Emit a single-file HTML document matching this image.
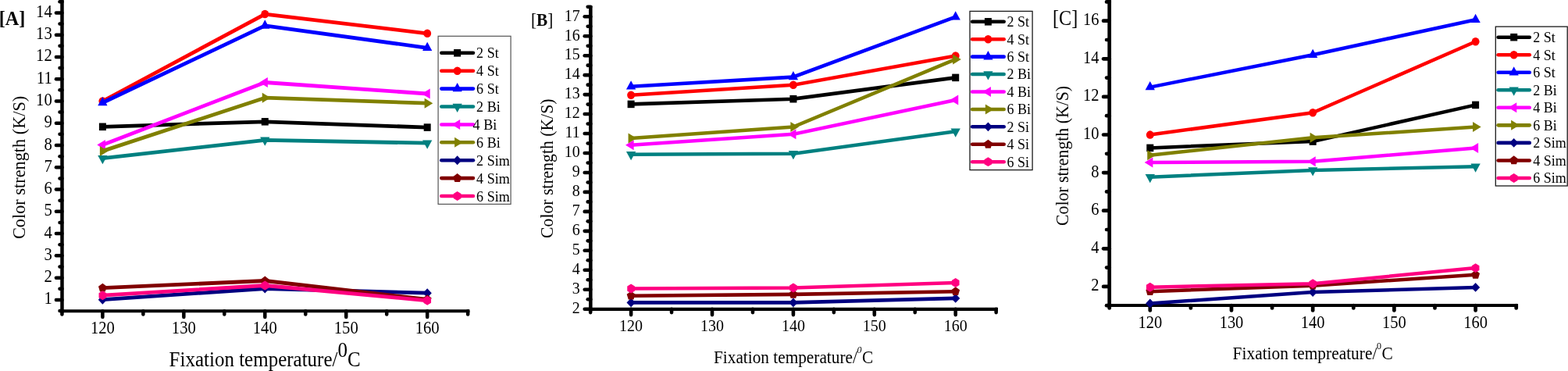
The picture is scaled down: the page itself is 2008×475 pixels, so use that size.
<!DOCTYPE html>
<html lang="en">
<head>
<meta charset="utf-8">
<title>Color strength vs fixation temperature</title>
<style>
html, body { margin: 0; padding: 0; background: #ffffff; }
body { width: 2008px; height: 475px; overflow: hidden; }
svg { display: block; }
svg text { font-family: "Liberation Serif", serif; fill: #000; }
</style>
</head>
<body>
<svg width="2008" height="475" viewBox="0 0 2008 475">
<rect x="0" y="0" width="2008" height="475" fill="#ffffff"/>
<line x1="79.50" y1="-5.00" x2="79.50" y2="400.55" stroke="#000" stroke-width="4.5"/>
<line x1="77.25" y1="398.30" x2="601.42" y2="398.30" stroke="#000" stroke-width="4.0"/>
<line x1="79.43" y1="398.30" x2="79.43" y2="402.50" stroke="#000" stroke-width="4.5" stroke-linecap="round"/>
<line x1="131.40" y1="398.30" x2="131.40" y2="406.10" stroke="#000" stroke-width="4.5" stroke-linecap="round"/>
<text transform="translate(131.40,427.10) scale(1,1.13)" font-size="20.7" text-anchor="middle">120</text>
<line x1="183.38" y1="398.30" x2="183.38" y2="402.50" stroke="#000" stroke-width="4.5" stroke-linecap="round"/>
<line x1="235.35" y1="398.30" x2="235.35" y2="406.10" stroke="#000" stroke-width="4.5" stroke-linecap="round"/>
<text transform="translate(235.35,427.10) scale(1,1.13)" font-size="20.7" text-anchor="middle">130</text>
<line x1="287.32" y1="398.30" x2="287.32" y2="402.50" stroke="#000" stroke-width="4.5" stroke-linecap="round"/>
<line x1="339.30" y1="398.30" x2="339.30" y2="406.10" stroke="#000" stroke-width="4.5" stroke-linecap="round"/>
<text transform="translate(339.30,427.10) scale(1,1.13)" font-size="20.7" text-anchor="middle">140</text>
<line x1="391.27" y1="398.30" x2="391.27" y2="402.50" stroke="#000" stroke-width="4.5" stroke-linecap="round"/>
<line x1="443.25" y1="398.30" x2="443.25" y2="406.10" stroke="#000" stroke-width="4.5" stroke-linecap="round"/>
<text transform="translate(443.25,427.10) scale(1,1.13)" font-size="20.7" text-anchor="middle">150</text>
<line x1="495.23" y1="398.30" x2="495.23" y2="402.50" stroke="#000" stroke-width="4.5" stroke-linecap="round"/>
<line x1="547.20" y1="398.30" x2="547.20" y2="406.10" stroke="#000" stroke-width="4.5" stroke-linecap="round"/>
<text transform="translate(547.20,427.10) scale(1,1.13)" font-size="20.7" text-anchor="middle">160</text>
<line x1="599.17" y1="398.30" x2="599.17" y2="402.50" stroke="#000" stroke-width="4.5" stroke-linecap="round"/>
<line x1="79.50" y1="398.03" x2="76.50" y2="398.03" stroke="#000" stroke-width="4.5" stroke-linecap="round"/>
<line x1="79.50" y1="383.90" x2="71.90" y2="383.90" stroke="#000" stroke-width="4.5" stroke-linecap="round"/>
<text transform="translate(66.80,389.40) scale(1,1.13)" font-size="20.7" text-anchor="end">1</text>
<line x1="79.50" y1="369.76" x2="76.50" y2="369.76" stroke="#000" stroke-width="4.5" stroke-linecap="round"/>
<line x1="79.50" y1="355.63" x2="71.90" y2="355.63" stroke="#000" stroke-width="4.5" stroke-linecap="round"/>
<text transform="translate(66.80,361.13) scale(1,1.13)" font-size="20.7" text-anchor="end">2</text>
<line x1="79.50" y1="341.50" x2="76.50" y2="341.50" stroke="#000" stroke-width="4.5" stroke-linecap="round"/>
<line x1="79.50" y1="327.36" x2="71.90" y2="327.36" stroke="#000" stroke-width="4.5" stroke-linecap="round"/>
<text transform="translate(66.80,332.86) scale(1,1.13)" font-size="20.7" text-anchor="end">3</text>
<line x1="79.50" y1="313.22" x2="76.50" y2="313.22" stroke="#000" stroke-width="4.5" stroke-linecap="round"/>
<line x1="79.50" y1="299.09" x2="71.90" y2="299.09" stroke="#000" stroke-width="4.5" stroke-linecap="round"/>
<text transform="translate(66.80,304.59) scale(1,1.13)" font-size="20.7" text-anchor="end">4</text>
<line x1="79.50" y1="284.95" x2="76.50" y2="284.95" stroke="#000" stroke-width="4.5" stroke-linecap="round"/>
<line x1="79.50" y1="270.82" x2="71.90" y2="270.82" stroke="#000" stroke-width="4.5" stroke-linecap="round"/>
<text transform="translate(66.80,276.32) scale(1,1.13)" font-size="20.7" text-anchor="end">5</text>
<line x1="79.50" y1="256.68" x2="76.50" y2="256.68" stroke="#000" stroke-width="4.5" stroke-linecap="round"/>
<line x1="79.50" y1="242.55" x2="71.90" y2="242.55" stroke="#000" stroke-width="4.5" stroke-linecap="round"/>
<text transform="translate(66.80,248.05) scale(1,1.13)" font-size="20.7" text-anchor="end">6</text>
<line x1="79.50" y1="228.41" x2="76.50" y2="228.41" stroke="#000" stroke-width="4.5" stroke-linecap="round"/>
<line x1="79.50" y1="214.28" x2="71.90" y2="214.28" stroke="#000" stroke-width="4.5" stroke-linecap="round"/>
<text transform="translate(66.80,219.78) scale(1,1.13)" font-size="20.7" text-anchor="end">7</text>
<line x1="79.50" y1="200.14" x2="76.50" y2="200.14" stroke="#000" stroke-width="4.5" stroke-linecap="round"/>
<line x1="79.50" y1="186.01" x2="71.90" y2="186.01" stroke="#000" stroke-width="4.5" stroke-linecap="round"/>
<text transform="translate(66.80,191.51) scale(1,1.13)" font-size="20.7" text-anchor="end">8</text>
<line x1="79.50" y1="171.87" x2="76.50" y2="171.87" stroke="#000" stroke-width="4.5" stroke-linecap="round"/>
<line x1="79.50" y1="157.74" x2="71.90" y2="157.74" stroke="#000" stroke-width="4.5" stroke-linecap="round"/>
<text transform="translate(66.80,163.24) scale(1,1.13)" font-size="20.7" text-anchor="end">9</text>
<line x1="79.50" y1="143.60" x2="76.50" y2="143.60" stroke="#000" stroke-width="4.5" stroke-linecap="round"/>
<line x1="79.50" y1="129.47" x2="71.90" y2="129.47" stroke="#000" stroke-width="4.5" stroke-linecap="round"/>
<text transform="translate(66.80,134.97) scale(1,1.13)" font-size="20.7" text-anchor="end">10</text>
<line x1="79.50" y1="115.33" x2="76.50" y2="115.33" stroke="#000" stroke-width="4.5" stroke-linecap="round"/>
<line x1="79.50" y1="101.20" x2="71.90" y2="101.20" stroke="#000" stroke-width="4.5" stroke-linecap="round"/>
<text transform="translate(66.80,106.70) scale(1,1.13)" font-size="20.7" text-anchor="end">11</text>
<line x1="79.50" y1="87.06" x2="76.50" y2="87.06" stroke="#000" stroke-width="4.5" stroke-linecap="round"/>
<line x1="79.50" y1="72.93" x2="71.90" y2="72.93" stroke="#000" stroke-width="4.5" stroke-linecap="round"/>
<text transform="translate(66.80,78.43) scale(1,1.13)" font-size="20.7" text-anchor="end">12</text>
<line x1="79.50" y1="58.79" x2="76.50" y2="58.79" stroke="#000" stroke-width="4.5" stroke-linecap="round"/>
<line x1="79.50" y1="44.66" x2="71.90" y2="44.66" stroke="#000" stroke-width="4.5" stroke-linecap="round"/>
<text transform="translate(66.80,50.16) scale(1,1.13)" font-size="20.7" text-anchor="end">13</text>
<line x1="79.50" y1="30.52" x2="76.50" y2="30.52" stroke="#000" stroke-width="4.5" stroke-linecap="round"/>
<line x1="79.50" y1="16.39" x2="71.90" y2="16.39" stroke="#000" stroke-width="4.5" stroke-linecap="round"/>
<text transform="translate(66.80,21.89) scale(1,1.13)" font-size="20.7" text-anchor="end">14</text>
<line x1="79.50" y1="2.25" x2="76.50" y2="2.25" stroke="#000" stroke-width="4.5" stroke-linecap="round"/>
<polyline points="131.40,162.30 339.30,155.80 547.20,163.10" fill="none" stroke="#000000" stroke-width="4.8" stroke-linejoin="round"/>
<rect x="126.90" y="157.53" width="9.00" height="9.54" fill="#000000"/>
<rect x="334.80" y="151.03" width="9.00" height="9.54" fill="#000000"/>
<rect x="542.70" y="158.33" width="9.00" height="9.54" fill="#000000"/>
<polyline points="131.40,129.50 339.30,18.05 547.20,42.80" fill="none" stroke="#ff0000" stroke-width="4.8" stroke-linejoin="round"/>
<ellipse cx="131.40" cy="129.50" rx="4.95" ry="5.25" fill="#ff0000"/>
<ellipse cx="339.30" cy="18.05" rx="4.95" ry="5.25" fill="#ff0000"/>
<ellipse cx="547.20" cy="42.80" rx="4.95" ry="5.25" fill="#ff0000"/>
<polyline points="131.40,131.50 339.30,32.90 547.20,61.30" fill="none" stroke="#0000ff" stroke-width="4.8" stroke-linejoin="round"/>
<polygon points="131.40,123.97 137.55,135.26 125.25,135.26" fill="#0000ff"/>
<polygon points="339.30,25.37 345.45,36.66 333.15,36.66" fill="#0000ff"/>
<polygon points="547.20,53.77 553.35,65.06 541.05,65.06" fill="#0000ff"/>
<polyline points="131.40,202.70 339.30,179.30 547.20,183.20" fill="none" stroke="#008080" stroke-width="4.8" stroke-linejoin="round"/>
<polygon points="131.40,210.23 137.55,198.94 125.25,198.94" fill="#008080"/>
<polygon points="339.30,186.83 345.45,175.54 333.15,175.54" fill="#008080"/>
<polygon points="547.20,190.73 553.35,179.44 541.05,179.44" fill="#008080"/>
<polyline points="131.40,185.40 339.30,105.50 547.20,120.00" fill="none" stroke="#ff00ff" stroke-width="4.8" stroke-linejoin="round"/>
<polygon points="124.30,185.40 134.95,178.88 134.95,191.92" fill="#ff00ff"/>
<polygon points="332.20,105.50 342.85,98.98 342.85,112.02" fill="#ff00ff"/>
<polygon points="540.10,120.00 550.75,113.48 550.75,126.52" fill="#ff00ff"/>
<polyline points="131.40,193.40 339.30,125.20 547.20,132.20" fill="none" stroke="#808000" stroke-width="4.8" stroke-linejoin="round"/>
<polygon points="138.50,193.40 127.85,186.88 127.85,199.92" fill="#808000"/>
<polygon points="346.40,125.20 335.75,118.68 335.75,131.72" fill="#808000"/>
<polygon points="554.30,132.20 543.65,125.68 543.65,138.72" fill="#808000"/>
<polyline points="131.40,383.70 339.30,369.50 547.20,375.20" fill="none" stroke="#000080" stroke-width="4.8" stroke-linejoin="round"/>
<polygon points="131.40,377.76 137.00,383.70 131.40,389.64 125.80,383.70" fill="#000080"/>
<polygon points="339.30,363.56 344.90,369.50 339.30,375.44 333.70,369.50" fill="#000080"/>
<polygon points="547.20,369.26 552.80,375.20 547.20,381.14 541.60,375.20" fill="#000080"/>
<polyline points="131.40,368.70 339.30,359.50 547.20,383.40" fill="none" stroke="#800000" stroke-width="4.8" stroke-linejoin="round"/>
<polygon points="131.40,362.66 136.82,366.83 134.75,373.59 128.05,373.59 125.98,366.83" fill="#800000"/>
<polygon points="339.30,353.46 344.72,357.63 342.65,364.39 335.95,364.39 333.88,357.63" fill="#800000"/>
<polygon points="547.20,377.36 552.62,381.53 550.55,388.29 543.85,388.29 541.78,381.53" fill="#800000"/>
<polyline points="131.40,378.20 339.30,365.50 547.20,384.80" fill="none" stroke="#ff0080" stroke-width="4.8" stroke-linejoin="round"/>
<polygon points="131.40,372.26 136.25,375.23 136.25,381.17 131.40,384.14 126.55,381.17 126.55,375.23" fill="#ff0080"/>
<polygon points="339.30,359.56 344.15,362.53 344.15,368.47 339.30,371.44 334.45,368.47 334.45,362.53" fill="#ff0080"/>
<polygon points="547.20,378.86 552.05,381.83 552.05,387.77 547.20,390.74 542.35,387.77 542.35,381.83" fill="#ff0080"/>
<text transform="translate(216.60,469.00) scale(1,1.05)" font-size="25">Fixation temperature/<tspan font-size="25" dy="-11" dx="0" >0</tspan><tspan dy="11" dx="0">C</tspan></text>
<text transform="translate(31.60,306.00) rotate(-90) scale(1,1.03)" font-size="22.3">Color strength (K/S)</text>
<text transform="translate(-1.30,31.60) scale(1,1.08)" font-size="24.2" font-weight="bold">[A]</text>
<rect x="561.10" y="46.30" width="93.00" height="215.10" fill="#fff" stroke="#555" stroke-width="1.2"/>
<line x1="565.30" y1="67.80" x2="606.00" y2="67.80" stroke="#000000" stroke-width="4.55" stroke-linecap="round"/>
<rect x="581.15" y="63.03" width="9.00" height="9.54" fill="#000000"/>
<text transform="translate(610.10,74.30) scale(1,1.08)" font-size="18.1">2 St</text>
<line x1="565.30" y1="90.70" x2="606.00" y2="90.70" stroke="#ff0000" stroke-width="4.55" stroke-linecap="round"/>
<ellipse cx="585.65" cy="90.70" rx="4.95" ry="5.25" fill="#ff0000"/>
<text transform="translate(610.10,97.20) scale(1,1.08)" font-size="18.1">4 St</text>
<line x1="565.30" y1="113.60" x2="606.00" y2="113.60" stroke="#0000ff" stroke-width="4.55" stroke-linecap="round"/>
<polygon points="585.65,106.07 591.80,117.36 579.50,117.36" fill="#0000ff"/>
<text transform="translate(610.10,120.10) scale(1,1.08)" font-size="18.1">6 St</text>
<line x1="565.30" y1="136.50" x2="606.00" y2="136.50" stroke="#008080" stroke-width="4.55" stroke-linecap="round"/>
<polygon points="585.65,144.03 591.80,132.74 579.50,132.74" fill="#008080"/>
<text transform="translate(610.10,143.00) scale(1,1.08)" font-size="18.1">2 Bi</text>
<line x1="565.30" y1="159.40" x2="606.00" y2="159.40" stroke="#ff00ff" stroke-width="4.55" stroke-linecap="round"/>
<polygon points="578.55,159.40 589.20,152.88 589.20,165.92" fill="#ff00ff"/>
<text transform="translate(605.60,165.90) scale(1,1.08)" font-size="18.1">4 Bi</text>
<line x1="565.30" y1="182.30" x2="606.00" y2="182.30" stroke="#808000" stroke-width="4.55" stroke-linecap="round"/>
<polygon points="592.75,182.30 582.10,175.78 582.10,188.82" fill="#808000"/>
<text transform="translate(610.10,188.80) scale(1,1.08)" font-size="18.1">6 Bi</text>
<line x1="565.30" y1="205.20" x2="606.00" y2="205.20" stroke="#000080" stroke-width="4.55" stroke-linecap="round"/>
<polygon points="585.65,199.26 591.25,205.20 585.65,211.14 580.05,205.20" fill="#000080"/>
<text transform="translate(610.10,211.70) scale(1,1.08)" font-size="18.1">2 Sim</text>
<line x1="565.30" y1="228.10" x2="606.00" y2="228.10" stroke="#800000" stroke-width="4.55" stroke-linecap="round"/>
<polygon points="585.65,222.06 591.07,226.23 589.00,232.99 582.30,232.99 580.23,226.23" fill="#800000"/>
<text transform="translate(610.10,234.60) scale(1,1.08)" font-size="18.1">4 Sim</text>
<line x1="565.30" y1="251.00" x2="606.00" y2="251.00" stroke="#ff0080" stroke-width="4.55" stroke-linecap="round"/>
<polygon points="585.65,245.06 590.50,248.03 590.50,253.97 585.65,256.94 580.80,253.97 580.80,248.03" fill="#ff0080"/>
<text transform="translate(610.10,257.50) scale(1,1.08)" font-size="18.1">6 Sim</text>
<line x1="756.30" y1="7.50" x2="756.30" y2="398.20" stroke="#000" stroke-width="4.6"/>
<line x1="754.00" y1="395.90" x2="1277.95" y2="395.90" stroke="#000" stroke-width="4.2"/>
<line x1="756.15" y1="395.90" x2="756.15" y2="400.10" stroke="#000" stroke-width="4.6" stroke-linecap="round"/>
<line x1="808.10" y1="395.90" x2="808.10" y2="403.10" stroke="#000" stroke-width="4.6" stroke-linecap="round"/>
<text transform="translate(808.10,424.40) scale(1,1.09)" font-size="20" text-anchor="middle">120</text>
<line x1="860.05" y1="395.90" x2="860.05" y2="400.10" stroke="#000" stroke-width="4.6" stroke-linecap="round"/>
<line x1="912.00" y1="395.90" x2="912.00" y2="403.10" stroke="#000" stroke-width="4.6" stroke-linecap="round"/>
<text transform="translate(912.00,424.40) scale(1,1.09)" font-size="20" text-anchor="middle">130</text>
<line x1="963.95" y1="395.90" x2="963.95" y2="400.10" stroke="#000" stroke-width="4.6" stroke-linecap="round"/>
<line x1="1015.90" y1="395.90" x2="1015.90" y2="403.10" stroke="#000" stroke-width="4.6" stroke-linecap="round"/>
<text transform="translate(1015.90,424.40) scale(1,1.09)" font-size="20" text-anchor="middle">140</text>
<line x1="1067.85" y1="395.90" x2="1067.85" y2="400.10" stroke="#000" stroke-width="4.6" stroke-linecap="round"/>
<line x1="1119.80" y1="395.90" x2="1119.80" y2="403.10" stroke="#000" stroke-width="4.6" stroke-linecap="round"/>
<text transform="translate(1119.80,424.40) scale(1,1.09)" font-size="20" text-anchor="middle">150</text>
<line x1="1171.75" y1="395.90" x2="1171.75" y2="400.10" stroke="#000" stroke-width="4.6" stroke-linecap="round"/>
<line x1="1223.70" y1="395.90" x2="1223.70" y2="403.10" stroke="#000" stroke-width="4.6" stroke-linecap="round"/>
<text transform="translate(1223.70,424.40) scale(1,1.09)" font-size="20" text-anchor="middle">160</text>
<line x1="1275.65" y1="395.90" x2="1275.65" y2="400.10" stroke="#000" stroke-width="4.6" stroke-linecap="round"/>
<line x1="756.30" y1="395.70" x2="748.70" y2="395.70" stroke="#000" stroke-width="4.6" stroke-linecap="round"/>
<text transform="translate(742.80,401.00) scale(1,1.09)" font-size="20" text-anchor="end">2</text>
<line x1="756.30" y1="383.22" x2="752.70" y2="383.22" stroke="#000" stroke-width="4.6" stroke-linecap="round"/>
<line x1="756.30" y1="370.74" x2="748.70" y2="370.74" stroke="#000" stroke-width="4.6" stroke-linecap="round"/>
<text transform="translate(742.80,376.04) scale(1,1.09)" font-size="20" text-anchor="end">3</text>
<line x1="756.30" y1="358.26" x2="752.70" y2="358.26" stroke="#000" stroke-width="4.6" stroke-linecap="round"/>
<line x1="756.30" y1="345.77" x2="748.70" y2="345.77" stroke="#000" stroke-width="4.6" stroke-linecap="round"/>
<text transform="translate(742.80,351.07) scale(1,1.09)" font-size="20" text-anchor="end">4</text>
<line x1="756.30" y1="333.29" x2="752.70" y2="333.29" stroke="#000" stroke-width="4.6" stroke-linecap="round"/>
<line x1="756.30" y1="320.81" x2="748.70" y2="320.81" stroke="#000" stroke-width="4.6" stroke-linecap="round"/>
<text transform="translate(742.80,326.11) scale(1,1.09)" font-size="20" text-anchor="end">5</text>
<line x1="756.30" y1="308.33" x2="752.70" y2="308.33" stroke="#000" stroke-width="4.6" stroke-linecap="round"/>
<line x1="756.30" y1="295.85" x2="748.70" y2="295.85" stroke="#000" stroke-width="4.6" stroke-linecap="round"/>
<text transform="translate(742.80,301.15) scale(1,1.09)" font-size="20" text-anchor="end">6</text>
<line x1="756.30" y1="283.37" x2="752.70" y2="283.37" stroke="#000" stroke-width="4.6" stroke-linecap="round"/>
<line x1="756.30" y1="270.88" x2="748.70" y2="270.88" stroke="#000" stroke-width="4.6" stroke-linecap="round"/>
<text transform="translate(742.80,276.19) scale(1,1.09)" font-size="20" text-anchor="end">7</text>
<line x1="756.30" y1="258.40" x2="752.70" y2="258.40" stroke="#000" stroke-width="4.6" stroke-linecap="round"/>
<line x1="756.30" y1="245.92" x2="748.70" y2="245.92" stroke="#000" stroke-width="4.6" stroke-linecap="round"/>
<text transform="translate(742.80,251.22) scale(1,1.09)" font-size="20" text-anchor="end">8</text>
<line x1="756.30" y1="233.44" x2="752.70" y2="233.44" stroke="#000" stroke-width="4.6" stroke-linecap="round"/>
<line x1="756.30" y1="220.96" x2="748.70" y2="220.96" stroke="#000" stroke-width="4.6" stroke-linecap="round"/>
<text transform="translate(742.80,226.26) scale(1,1.09)" font-size="20" text-anchor="end">9</text>
<line x1="756.30" y1="208.48" x2="752.70" y2="208.48" stroke="#000" stroke-width="4.6" stroke-linecap="round"/>
<line x1="756.30" y1="196.00" x2="748.70" y2="196.00" stroke="#000" stroke-width="4.6" stroke-linecap="round"/>
<text transform="translate(742.80,201.30) scale(1,1.09)" font-size="20" text-anchor="end">10</text>
<line x1="756.30" y1="183.51" x2="752.70" y2="183.51" stroke="#000" stroke-width="4.6" stroke-linecap="round"/>
<line x1="756.30" y1="171.03" x2="748.70" y2="171.03" stroke="#000" stroke-width="4.6" stroke-linecap="round"/>
<text transform="translate(742.80,176.33) scale(1,1.09)" font-size="20" text-anchor="end">11</text>
<line x1="756.30" y1="158.55" x2="752.70" y2="158.55" stroke="#000" stroke-width="4.6" stroke-linecap="round"/>
<line x1="756.30" y1="146.07" x2="748.70" y2="146.07" stroke="#000" stroke-width="4.6" stroke-linecap="round"/>
<text transform="translate(742.80,151.37) scale(1,1.09)" font-size="20" text-anchor="end">12</text>
<line x1="756.30" y1="133.59" x2="752.70" y2="133.59" stroke="#000" stroke-width="4.6" stroke-linecap="round"/>
<line x1="756.30" y1="121.11" x2="748.70" y2="121.11" stroke="#000" stroke-width="4.6" stroke-linecap="round"/>
<text transform="translate(742.80,126.41) scale(1,1.09)" font-size="20" text-anchor="end">13</text>
<line x1="756.30" y1="108.63" x2="752.70" y2="108.63" stroke="#000" stroke-width="4.6" stroke-linecap="round"/>
<line x1="756.30" y1="96.14" x2="748.70" y2="96.14" stroke="#000" stroke-width="4.6" stroke-linecap="round"/>
<text transform="translate(742.80,101.44) scale(1,1.09)" font-size="20" text-anchor="end">14</text>
<line x1="756.30" y1="83.66" x2="752.70" y2="83.66" stroke="#000" stroke-width="4.6" stroke-linecap="round"/>
<line x1="756.30" y1="71.18" x2="748.70" y2="71.18" stroke="#000" stroke-width="4.6" stroke-linecap="round"/>
<text transform="translate(742.80,76.48) scale(1,1.09)" font-size="20" text-anchor="end">15</text>
<line x1="756.30" y1="58.70" x2="752.70" y2="58.70" stroke="#000" stroke-width="4.6" stroke-linecap="round"/>
<line x1="756.30" y1="46.22" x2="748.70" y2="46.22" stroke="#000" stroke-width="4.6" stroke-linecap="round"/>
<text transform="translate(742.80,51.52) scale(1,1.09)" font-size="20" text-anchor="end">16</text>
<line x1="756.30" y1="33.74" x2="752.70" y2="33.74" stroke="#000" stroke-width="4.6" stroke-linecap="round"/>
<line x1="756.30" y1="21.25" x2="748.70" y2="21.25" stroke="#000" stroke-width="4.6" stroke-linecap="round"/>
<text transform="translate(742.80,26.55) scale(1,1.09)" font-size="20" text-anchor="end">17</text>
<line x1="756.30" y1="8.77" x2="752.70" y2="8.77" stroke="#000" stroke-width="4.6" stroke-linecap="round"/>
<polyline points="808.10,133.40 1015.90,126.70 1223.70,99.40" fill="none" stroke="#000000" stroke-width="4.6" stroke-linejoin="round"/>
<rect x="803.60" y="128.63" width="9.00" height="9.54" fill="#000000"/>
<rect x="1011.40" y="121.93" width="9.00" height="9.54" fill="#000000"/>
<rect x="1219.20" y="94.63" width="9.00" height="9.54" fill="#000000"/>
<polyline points="808.10,121.70 1015.90,108.80 1223.70,71.50" fill="none" stroke="#ff0000" stroke-width="4.6" stroke-linejoin="round"/>
<ellipse cx="808.10" cy="121.70" rx="4.95" ry="5.25" fill="#ff0000"/>
<ellipse cx="1015.90" cy="108.80" rx="4.95" ry="5.25" fill="#ff0000"/>
<ellipse cx="1223.70" cy="71.50" rx="4.95" ry="5.25" fill="#ff0000"/>
<polyline points="808.10,110.80 1015.90,98.60 1223.70,21.70" fill="none" stroke="#0000ff" stroke-width="4.6" stroke-linejoin="round"/>
<polygon points="808.10,103.27 814.25,114.56 801.95,114.56" fill="#0000ff"/>
<polygon points="1015.90,91.07 1022.05,102.36 1009.75,102.36" fill="#0000ff"/>
<polygon points="1223.70,14.17 1229.85,25.46 1217.55,25.46" fill="#0000ff"/>
<polyline points="808.10,197.70 1015.90,196.80 1223.70,168.20" fill="none" stroke="#008080" stroke-width="4.6" stroke-linejoin="round"/>
<polygon points="808.10,205.23 814.25,193.94 801.95,193.94" fill="#008080"/>
<polygon points="1015.90,204.33 1022.05,193.04 1009.75,193.04" fill="#008080"/>
<polygon points="1223.70,175.73 1229.85,164.44 1217.55,164.44" fill="#008080"/>
<polyline points="808.10,185.70 1015.90,171.80 1223.70,128.00" fill="none" stroke="#ff00ff" stroke-width="4.6" stroke-linejoin="round"/>
<polygon points="801.00,185.70 811.65,179.18 811.65,192.22" fill="#ff00ff"/>
<polygon points="1008.80,171.80 1019.45,165.28 1019.45,178.32" fill="#ff00ff"/>
<polygon points="1216.60,128.00 1227.25,121.48 1227.25,134.52" fill="#ff00ff"/>
<polyline points="808.10,177.00 1015.90,162.50 1223.70,75.90" fill="none" stroke="#808000" stroke-width="4.6" stroke-linejoin="round"/>
<polygon points="815.20,177.00 804.55,170.48 804.55,183.52" fill="#808000"/>
<polygon points="1023.00,162.50 1012.35,155.98 1012.35,169.02" fill="#808000"/>
<polygon points="1230.80,75.90 1220.15,69.38 1220.15,82.42" fill="#808000"/>
<polyline points="808.10,387.40 1015.90,387.40 1223.70,381.90" fill="none" stroke="#000080" stroke-width="4.6" stroke-linejoin="round"/>
<polygon points="808.10,381.46 813.70,387.40 808.10,393.34 802.50,387.40" fill="#000080"/>
<polygon points="1015.90,381.46 1021.50,387.40 1015.90,393.34 1010.30,387.40" fill="#000080"/>
<polygon points="1223.70,375.96 1229.30,381.90 1223.70,387.84 1218.10,381.90" fill="#000080"/>
<polyline points="808.10,378.70 1015.90,376.90 1223.70,373.20" fill="none" stroke="#800000" stroke-width="4.6" stroke-linejoin="round"/>
<polygon points="808.10,372.66 813.52,376.83 811.45,383.59 804.75,383.59 802.68,376.83" fill="#800000"/>
<polygon points="1015.90,370.86 1021.32,375.03 1019.25,381.79 1012.55,381.79 1010.48,375.03" fill="#800000"/>
<polygon points="1223.70,367.16 1229.12,371.33 1227.05,378.09 1220.35,378.09 1218.28,371.33" fill="#800000"/>
<polyline points="808.10,369.50 1015.90,368.50 1223.70,362.00" fill="none" stroke="#ff0080" stroke-width="4.6" stroke-linejoin="round"/>
<polygon points="808.10,363.56 812.95,366.53 812.95,372.47 808.10,375.44 803.25,372.47 803.25,366.53" fill="#ff0080"/>
<polygon points="1015.90,362.56 1020.75,365.53 1020.75,371.47 1015.90,374.44 1011.05,371.47 1011.05,365.53" fill="#ff0080"/>
<polygon points="1223.70,356.06 1228.55,359.03 1228.55,364.97 1223.70,367.94 1218.85,364.97 1218.85,359.03" fill="#ff0080"/>
<text transform="translate(914.00,465.30) scale(1,1.06)" font-size="21.3">Fixation temperature/<tspan font-size="12" dy="-12.3" dx="-0.3" font-style="italic">0</tspan><tspan dy="12.3" dx="0.5">C</tspan></text>
<text transform="translate(708.00,304.90) rotate(-90) scale(1,1.03)" font-size="21.7">Color strength (K/S)</text>
<text transform="translate(680.00,32.60) scale(1,1.05)" font-size="21.3">[<tspan font-weight="bold">B</tspan>]</text>
<rect x="1242.00" y="14.40" width="80.10" height="203.20" fill="#fff" stroke="#1a1a1a" stroke-width="1.3"/>
<line x1="1245.10" y1="27.80" x2="1285.70" y2="27.80" stroke="#000000" stroke-width="4.55" stroke-linecap="round"/>
<rect x="1260.90" y="23.03" width="9.00" height="9.54" fill="#000000"/>
<text transform="translate(1289.60,34.20) scale(1,1.05)" font-size="18">2 St</text>
<line x1="1245.10" y1="50.22" x2="1285.70" y2="50.22" stroke="#ff0000" stroke-width="4.55" stroke-linecap="round"/>
<ellipse cx="1265.40" cy="50.22" rx="4.95" ry="5.25" fill="#ff0000"/>
<text transform="translate(1289.60,56.62) scale(1,1.05)" font-size="18">4 St</text>
<line x1="1245.10" y1="72.64" x2="1285.70" y2="72.64" stroke="#0000ff" stroke-width="4.55" stroke-linecap="round"/>
<polygon points="1265.40,65.11 1271.55,76.40 1259.25,76.40" fill="#0000ff"/>
<text transform="translate(1289.60,79.04) scale(1,1.05)" font-size="18">6 St</text>
<line x1="1245.10" y1="95.06" x2="1285.70" y2="95.06" stroke="#008080" stroke-width="4.55" stroke-linecap="round"/>
<polygon points="1265.40,102.59 1271.55,91.30 1259.25,91.30" fill="#008080"/>
<text transform="translate(1289.60,101.46) scale(1,1.05)" font-size="18">2 Bi</text>
<line x1="1245.10" y1="117.48" x2="1285.70" y2="117.48" stroke="#ff00ff" stroke-width="4.55" stroke-linecap="round"/>
<polygon points="1258.30,117.48 1268.95,110.96 1268.95,124.00" fill="#ff00ff"/>
<text transform="translate(1289.60,123.88) scale(1,1.05)" font-size="18">4 Bi</text>
<line x1="1245.10" y1="139.90" x2="1285.70" y2="139.90" stroke="#808000" stroke-width="4.55" stroke-linecap="round"/>
<polygon points="1272.50,139.90 1261.85,133.38 1261.85,146.42" fill="#808000"/>
<text transform="translate(1289.60,146.30) scale(1,1.05)" font-size="18">6 Bi</text>
<line x1="1245.10" y1="162.32" x2="1285.70" y2="162.32" stroke="#000080" stroke-width="4.55" stroke-linecap="round"/>
<polygon points="1265.40,156.38 1271.00,162.32 1265.40,168.26 1259.80,162.32" fill="#000080"/>
<text transform="translate(1289.60,168.72) scale(1,1.05)" font-size="18">2 Si</text>
<line x1="1245.10" y1="184.74" x2="1285.70" y2="184.74" stroke="#800000" stroke-width="4.55" stroke-linecap="round"/>
<polygon points="1265.40,178.70 1270.82,182.87 1268.75,189.63 1262.05,189.63 1259.98,182.87" fill="#800000"/>
<text transform="translate(1289.60,191.14) scale(1,1.05)" font-size="18">4 Si</text>
<line x1="1245.10" y1="207.16" x2="1285.70" y2="207.16" stroke="#ff0080" stroke-width="4.55" stroke-linecap="round"/>
<polygon points="1265.40,201.22 1270.25,204.19 1270.25,210.13 1265.40,213.10 1260.55,210.13 1260.55,204.19" fill="#ff0080"/>
<text transform="translate(1289.60,213.56) scale(1,1.05)" font-size="18">6 Si</text>
<line x1="1420.70" y1="-5.00" x2="1420.70" y2="393.35" stroke="#000" stroke-width="4.7"/>
<line x1="1418.35" y1="391.00" x2="1944.05" y2="391.00" stroke="#000" stroke-width="4.1"/>
<line x1="1420.70" y1="391.00" x2="1420.70" y2="394.40" stroke="#000" stroke-width="4.7" stroke-linecap="round"/>
<line x1="1472.80" y1="391.00" x2="1472.80" y2="397.40" stroke="#000" stroke-width="4.7" stroke-linecap="round"/>
<text transform="translate(1472.80,419.70) scale(1,1.09)" font-size="20.5" text-anchor="middle">120</text>
<line x1="1524.90" y1="391.00" x2="1524.90" y2="394.40" stroke="#000" stroke-width="4.7" stroke-linecap="round"/>
<line x1="1577.00" y1="391.00" x2="1577.00" y2="397.40" stroke="#000" stroke-width="4.7" stroke-linecap="round"/>
<text transform="translate(1577.00,419.70) scale(1,1.09)" font-size="20.5" text-anchor="middle">130</text>
<line x1="1629.10" y1="391.00" x2="1629.10" y2="394.40" stroke="#000" stroke-width="4.7" stroke-linecap="round"/>
<line x1="1681.20" y1="391.00" x2="1681.20" y2="397.40" stroke="#000" stroke-width="4.7" stroke-linecap="round"/>
<text transform="translate(1681.20,419.70) scale(1,1.09)" font-size="20.5" text-anchor="middle">140</text>
<line x1="1733.30" y1="391.00" x2="1733.30" y2="394.40" stroke="#000" stroke-width="4.7" stroke-linecap="round"/>
<line x1="1785.40" y1="391.00" x2="1785.40" y2="397.40" stroke="#000" stroke-width="4.7" stroke-linecap="round"/>
<text transform="translate(1785.40,419.70) scale(1,1.09)" font-size="20.5" text-anchor="middle">150</text>
<line x1="1837.50" y1="391.00" x2="1837.50" y2="394.40" stroke="#000" stroke-width="4.7" stroke-linecap="round"/>
<line x1="1889.60" y1="391.00" x2="1889.60" y2="397.40" stroke="#000" stroke-width="4.7" stroke-linecap="round"/>
<text transform="translate(1889.60,419.70) scale(1,1.09)" font-size="20.5" text-anchor="middle">160</text>
<line x1="1941.70" y1="391.00" x2="1941.70" y2="394.40" stroke="#000" stroke-width="4.7" stroke-linecap="round"/>
<line x1="1420.70" y1="391.20" x2="1417.10" y2="391.20" stroke="#000" stroke-width="4.7" stroke-linecap="round"/>
<line x1="1420.70" y1="366.90" x2="1413.10" y2="366.90" stroke="#000" stroke-width="4.7" stroke-linecap="round"/>
<text transform="translate(1407.60,372.40) scale(1,1.09)" font-size="20.5" text-anchor="end">2</text>
<line x1="1420.70" y1="342.60" x2="1417.10" y2="342.60" stroke="#000" stroke-width="4.7" stroke-linecap="round"/>
<line x1="1420.70" y1="318.30" x2="1413.10" y2="318.30" stroke="#000" stroke-width="4.7" stroke-linecap="round"/>
<text transform="translate(1407.60,323.80) scale(1,1.09)" font-size="20.5" text-anchor="end">4</text>
<line x1="1420.70" y1="294.00" x2="1417.10" y2="294.00" stroke="#000" stroke-width="4.7" stroke-linecap="round"/>
<line x1="1420.70" y1="269.70" x2="1413.10" y2="269.70" stroke="#000" stroke-width="4.7" stroke-linecap="round"/>
<text transform="translate(1407.60,275.20) scale(1,1.09)" font-size="20.5" text-anchor="end">6</text>
<line x1="1420.70" y1="245.40" x2="1417.10" y2="245.40" stroke="#000" stroke-width="4.7" stroke-linecap="round"/>
<line x1="1420.70" y1="221.10" x2="1413.10" y2="221.10" stroke="#000" stroke-width="4.7" stroke-linecap="round"/>
<text transform="translate(1407.60,226.60) scale(1,1.09)" font-size="20.5" text-anchor="end">8</text>
<line x1="1420.70" y1="196.80" x2="1417.10" y2="196.80" stroke="#000" stroke-width="4.7" stroke-linecap="round"/>
<line x1="1420.70" y1="172.50" x2="1413.10" y2="172.50" stroke="#000" stroke-width="4.7" stroke-linecap="round"/>
<text transform="translate(1407.60,178.00) scale(1,1.09)" font-size="20.5" text-anchor="end">10</text>
<line x1="1420.70" y1="148.20" x2="1417.10" y2="148.20" stroke="#000" stroke-width="4.7" stroke-linecap="round"/>
<line x1="1420.70" y1="123.90" x2="1413.10" y2="123.90" stroke="#000" stroke-width="4.7" stroke-linecap="round"/>
<text transform="translate(1407.60,129.40) scale(1,1.09)" font-size="20.5" text-anchor="end">12</text>
<line x1="1420.70" y1="99.60" x2="1417.10" y2="99.60" stroke="#000" stroke-width="4.7" stroke-linecap="round"/>
<line x1="1420.70" y1="75.30" x2="1413.10" y2="75.30" stroke="#000" stroke-width="4.7" stroke-linecap="round"/>
<text transform="translate(1407.60,80.80) scale(1,1.09)" font-size="20.5" text-anchor="end">14</text>
<line x1="1420.70" y1="51.00" x2="1417.10" y2="51.00" stroke="#000" stroke-width="4.7" stroke-linecap="round"/>
<line x1="1420.70" y1="26.70" x2="1413.10" y2="26.70" stroke="#000" stroke-width="4.7" stroke-linecap="round"/>
<text transform="translate(1407.60,32.20) scale(1,1.09)" font-size="20.5" text-anchor="end">16</text>
<line x1="1420.70" y1="2.40" x2="1417.10" y2="2.40" stroke="#000" stroke-width="4.7" stroke-linecap="round"/>
<polyline points="1472.80,189.40 1681.20,181.10 1889.60,134.40" fill="none" stroke="#000000" stroke-width="4.5" stroke-linejoin="round"/>
<rect x="1468.30" y="184.63" width="9.00" height="9.54" fill="#000000"/>
<rect x="1676.70" y="176.33" width="9.00" height="9.54" fill="#000000"/>
<rect x="1885.10" y="129.63" width="9.00" height="9.54" fill="#000000"/>
<polyline points="1472.80,172.60 1681.20,144.20 1889.60,53.30" fill="none" stroke="#ff0000" stroke-width="4.5" stroke-linejoin="round"/>
<ellipse cx="1472.80" cy="172.60" rx="4.95" ry="5.25" fill="#ff0000"/>
<ellipse cx="1681.20" cy="144.20" rx="4.95" ry="5.25" fill="#ff0000"/>
<ellipse cx="1889.60" cy="53.30" rx="4.95" ry="5.25" fill="#ff0000"/>
<polyline points="1472.80,111.60 1681.20,70.20 1889.60,25.30" fill="none" stroke="#0000ff" stroke-width="4.5" stroke-linejoin="round"/>
<polygon points="1472.80,104.07 1478.95,115.36 1466.65,115.36" fill="#0000ff"/>
<polygon points="1681.20,62.67 1687.35,73.96 1675.05,73.96" fill="#0000ff"/>
<polygon points="1889.60,17.77 1895.75,29.06 1883.45,29.06" fill="#0000ff"/>
<polyline points="1472.80,226.70 1681.20,218.00 1889.60,213.30" fill="none" stroke="#008080" stroke-width="4.5" stroke-linejoin="round"/>
<polygon points="1472.80,234.23 1478.95,222.94 1466.65,222.94" fill="#008080"/>
<polygon points="1681.20,225.53 1687.35,214.24 1675.05,214.24" fill="#008080"/>
<polygon points="1889.60,220.83 1895.75,209.54 1883.45,209.54" fill="#008080"/>
<polyline points="1472.80,208.00 1681.20,206.70 1889.60,189.40" fill="none" stroke="#ff00ff" stroke-width="4.5" stroke-linejoin="round"/>
<polygon points="1465.70,208.00 1476.35,201.48 1476.35,214.52" fill="#ff00ff"/>
<polygon points="1674.10,206.70 1684.75,200.18 1684.75,213.22" fill="#ff00ff"/>
<polygon points="1882.50,189.40 1893.15,182.88 1893.15,195.92" fill="#ff00ff"/>
<polyline points="1472.80,198.80 1681.20,176.30 1889.60,162.60" fill="none" stroke="#808000" stroke-width="4.5" stroke-linejoin="round"/>
<polygon points="1479.90,198.80 1469.25,192.28 1469.25,205.32" fill="#808000"/>
<polygon points="1688.30,176.30 1677.65,169.78 1677.65,182.82" fill="#808000"/>
<polygon points="1896.70,162.60 1886.05,156.08 1886.05,169.12" fill="#808000"/>
<polyline points="1472.80,388.50 1681.20,374.10 1889.60,367.90" fill="none" stroke="#000080" stroke-width="4.5" stroke-linejoin="round"/>
<polygon points="1472.80,382.56 1478.40,388.50 1472.80,394.44 1467.20,388.50" fill="#000080"/>
<polygon points="1681.20,368.16 1686.80,374.10 1681.20,380.04 1675.60,374.10" fill="#000080"/>
<polygon points="1889.60,361.96 1895.20,367.90 1889.60,373.84 1884.00,367.90" fill="#000080"/>
<polyline points="1472.80,373.20 1681.20,365.70 1889.60,351.80" fill="none" stroke="#800000" stroke-width="4.5" stroke-linejoin="round"/>
<polygon points="1472.80,367.16 1478.22,371.33 1476.15,378.09 1469.45,378.09 1467.38,371.33" fill="#800000"/>
<polygon points="1681.20,359.66 1686.62,363.83 1684.55,370.59 1677.85,370.59 1675.78,363.83" fill="#800000"/>
<polygon points="1889.60,345.76 1895.02,349.93 1892.95,356.69 1886.25,356.69 1884.18,349.93" fill="#800000"/>
<polyline points="1472.80,367.70 1681.20,363.20 1889.60,343.10" fill="none" stroke="#ff0080" stroke-width="4.5" stroke-linejoin="round"/>
<polygon points="1472.80,361.76 1477.65,364.73 1477.65,370.67 1472.80,373.64 1467.95,370.67 1467.95,364.73" fill="#ff0080"/>
<polygon points="1681.20,357.26 1686.05,360.23 1686.05,366.17 1681.20,369.14 1676.35,366.17 1676.35,360.23" fill="#ff0080"/>
<polygon points="1889.60,337.16 1894.45,340.13 1894.45,346.07 1889.60,349.04 1884.75,346.07 1884.75,340.13" fill="#ff0080"/>
<text transform="translate(1578.60,460.20) scale(1,1.06)" font-size="21.4">Fixation tempreature/<tspan font-size="12" dy="-12.3" dx="-0.5" >0</tspan><tspan dy="12.3" dx="0.5">C</tspan></text>
<text transform="translate(1367.50,289.00) rotate(-90) scale(1,1.08)" font-size="21.8">Color strength (K/S)</text>
<text transform="translate(1348.00,31.60) scale(1,1.12)" font-size="24.2">[C]</text>
<rect x="1915.30" y="34.10" width="91.90" height="203.90" fill="#fff" stroke="#1a1a1a" stroke-width="1.3"/>
<line x1="1918.60" y1="47.70" x2="1958.80" y2="47.70" stroke="#000000" stroke-width="4.55" stroke-linecap="round"/>
<rect x="1934.20" y="42.93" width="9.00" height="9.54" fill="#000000"/>
<text transform="translate(1963.20,54.10) scale(1,1.05)" font-size="18">2 St</text>
<line x1="1918.60" y1="70.23" x2="1958.80" y2="70.23" stroke="#ff0000" stroke-width="4.55" stroke-linecap="round"/>
<ellipse cx="1938.70" cy="70.23" rx="4.95" ry="5.25" fill="#ff0000"/>
<text transform="translate(1963.20,76.63) scale(1,1.05)" font-size="18">4 St</text>
<line x1="1918.60" y1="92.76" x2="1958.80" y2="92.76" stroke="#0000ff" stroke-width="4.55" stroke-linecap="round"/>
<polygon points="1938.70,85.23 1944.85,96.52 1932.55,96.52" fill="#0000ff"/>
<text transform="translate(1963.20,99.16) scale(1,1.05)" font-size="18">6 St</text>
<line x1="1918.60" y1="115.29" x2="1958.80" y2="115.29" stroke="#008080" stroke-width="4.55" stroke-linecap="round"/>
<polygon points="1938.70,122.82 1944.85,111.53 1932.55,111.53" fill="#008080"/>
<text transform="translate(1963.20,121.69) scale(1,1.05)" font-size="18">2 Bi</text>
<line x1="1918.60" y1="137.82" x2="1958.80" y2="137.82" stroke="#ff00ff" stroke-width="4.55" stroke-linecap="round"/>
<polygon points="1931.60,137.82 1942.25,131.30 1942.25,144.34" fill="#ff00ff"/>
<text transform="translate(1963.20,144.22) scale(1,1.05)" font-size="18">4 Bi</text>
<line x1="1918.60" y1="160.35" x2="1958.80" y2="160.35" stroke="#808000" stroke-width="4.55" stroke-linecap="round"/>
<polygon points="1945.80,160.35 1935.15,153.83 1935.15,166.87" fill="#808000"/>
<text transform="translate(1963.20,166.75) scale(1,1.05)" font-size="18">6 Bi</text>
<line x1="1918.60" y1="182.88" x2="1958.80" y2="182.88" stroke="#000080" stroke-width="4.55" stroke-linecap="round"/>
<polygon points="1938.70,176.94 1944.30,182.88 1938.70,188.82 1933.10,182.88" fill="#000080"/>
<text transform="translate(1963.20,189.28) scale(1,1.05)" font-size="18">2 Sim</text>
<line x1="1918.60" y1="205.41" x2="1958.80" y2="205.41" stroke="#800000" stroke-width="4.55" stroke-linecap="round"/>
<polygon points="1938.70,199.37 1944.12,203.54 1942.05,210.30 1935.35,210.30 1933.28,203.54" fill="#800000"/>
<text transform="translate(1963.20,211.81) scale(1,1.05)" font-size="18">4 Sim</text>
<line x1="1918.60" y1="227.94" x2="1958.80" y2="227.94" stroke="#ff0080" stroke-width="4.55" stroke-linecap="round"/>
<polygon points="1938.70,222.00 1943.55,224.97 1943.55,230.91 1938.70,233.88 1933.85,230.91 1933.85,224.97" fill="#ff0080"/>
<text transform="translate(1963.20,234.34) scale(1,1.05)" font-size="18">6 Sim</text>
</svg>
</body>
</html>
